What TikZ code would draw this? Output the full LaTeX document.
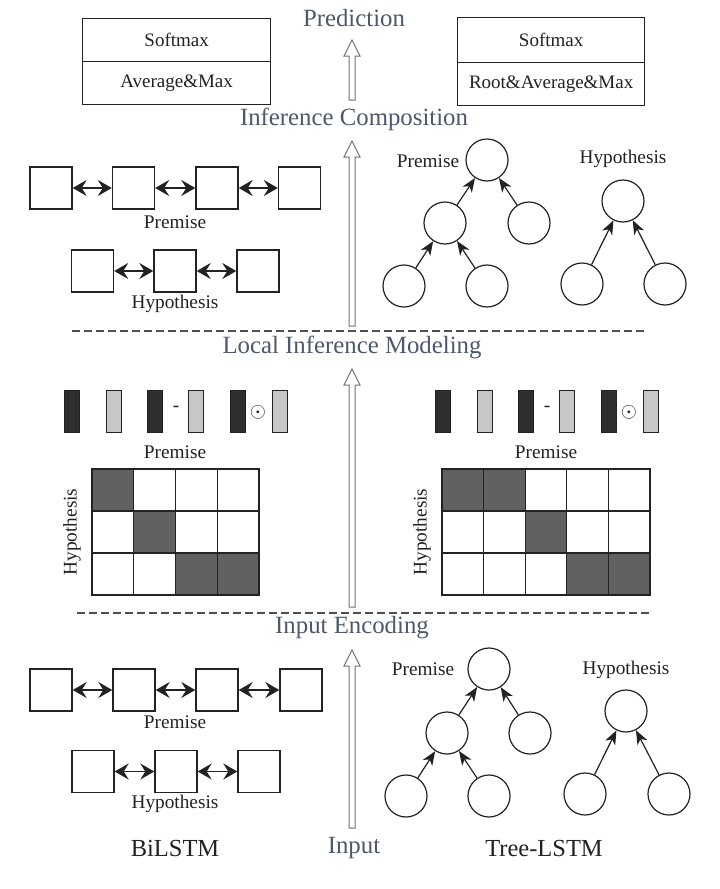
\documentclass[tikz,border=0pt]{standalone}
\usepackage{fontspec}
\setmainfont{Liberation Serif}
\usetikzlibrary{arrows.meta,calc}
\definecolor{stagec}{HTML}{4E586C}
\definecolor{inkc}{HTML}{222222}
\newcommand\hollowup[3]{% x, y bottom, y tip
  \draw[hollow] (#1-3,#2) -- (#1-3,#3+16) -- (#1-8,#3+16) -- (#1,#3) -- (#1+8,#3+16) -- (#1+3,#3+16) -- (#1+3,#2) -- cycle;}
\begin{document}
\begin{tikzpicture}[x=1pt,y=-1pt,
  stage/.style={font=\fontsize{24.8}{29}\selectfont, text=stagec, inner sep=0},
  big/.style={font=\fontsize{24.5}{29}\selectfont, text=inkc, inner sep=0},
  small/.style={font=\fontsize{19.3}{22}\selectfont, text=inkc, inner sep=0},
  cell/.style={draw=inkc, line width=1.4pt, minimum width=42pt, minimum height=42pt, inner sep=0},
  nd/.style={draw=inkc, circle, line width=1.2pt, minimum size=42pt, inner sep=0},
  bi/.style={{Stealth[length=14pt,width=16pt,inset=5pt]}-{Stealth[length=14pt,width=16pt,inset=5pt]}, line width=1.5pt, draw=inkc},
  tr/.style={-{Stealth[length=14pt,width=11pt,inset=4pt]}, line width=1.2pt, draw=inkc},
  sep/.style={dash pattern=on 8pt off 4pt, line width=1.2pt, draw=inkc!80},
  hollow/.style={draw=black!55, line width=1pt, fill=white},
  darkbar/.style={draw=inkc, fill=black!82, line width=1pt, minimum width=15pt, minimum height=42pt, inner sep=0},
  lightbar/.style={draw=inkc, fill=black!22, line width=1pt, minimum width=15pt, minimum height=42pt, inner sep=0},
  matc/.style={draw=inkc, line width=1.3pt},
  darkc/.style={fill=black!62},
  opc/.style={font=\fontsize{22}{24}\selectfont, text=inkc, inner sep=0},
  boxrow/.style={draw=inkc, line width=1.3pt, minimum height=43pt, inner sep=0, font=\fontsize{19}{22}\selectfont, text=inkc},
]
\useasboundingbox (0,0) rectangle (720,889);
\fill[white] (0,0) rectangle (720,889);

% ---------- Top: prediction ----------
\node[stage] (pred) at (354,18) {Prediction};
\node[boxrow, minimum width=188pt, anchor=north west] (lsoft) at (82,18) {Softmax};
\node[boxrow, minimum width=188pt, anchor=north west] (lavg) at (82,61) {Average\&Max};
\node[boxrow, minimum width=187pt, minimum height=45pt, anchor=north west] (rsoft) at (457,17) {Softmax};
\node[boxrow, minimum width=187pt, minimum height=43pt, anchor=north west] (ravg) at (457,62) {Root\&Average\&Max};
\node[stage] (icomp) at (354,119) {Inference Composition};
\hollowup{352}{100}{40}

% ---------- Composition layer ----------
\hollowup{352}{326}{141}

% BiLSTM (composition)
\foreach \n/\x in {1/51,2/133.5,3/217,4/299.5}
  \node[cell] (cp\n) at (\x,188) {};
\foreach \a/\b in {1/2,2/3,3/4} \draw[bi] (cp\a.east) -- (cp\b.west);
\node[small] (cpl) at (175,222) {Premise};
\foreach \n/\x in {1/92.5,2/175,3/258}
  \node[cell] (ch\n) at (\x,271) {};
\foreach \a/\b in {1/2,2/3} \draw[bi] (ch\a.east) -- (ch\b.west);
\node[small] (chl) at (175,304) {Hypothesis};

% Tree (composition)
\node[small] (tpl) at (428,161) {Premise};
\node[nd] (tr) at (487,160) {};
\node[nd] (tm) at (445,223) {};
\node[nd] (trc) at (529,223) {};
\node[nd] (tl1) at (404,286) {};
\node[nd] (tl2) at (487,286) {};
\draw[tr] (tm) -- (tr);
\draw[tr] (trc) -- (tr);
\draw[tr] (tl1) -- (tm);
\draw[tr] (tl2) -- (tm);
\node[small] (thl) at (623,159) {Hypothesis};
\node[nd] (hr) at (623,201) {};
\node[nd] (hl1) at (582,284) {};
\node[nd] (hl2) at (665,284) {};
\draw[tr] (hl1) -- (hr);
\draw[tr] (hl2) -- (hr);

\draw[sep] (72,331) -- (645,331);

% ---------- Local inference ----------
\node[stage] (lim) at (352,347) {Local Inference Modeling};
\hollowup{352}{607}{369}

% left bars
\node[darkbar] (lb1) at (71.5,411) {};
\node[lightbar] (lb2) at (113.5,411) {};
\node[darkbar] (lb3) at (154.5,411) {};
\node[small] (lm) at (176,409) {-};
\node[lightbar] (lb4) at (195.5,411) {};
\node[darkbar] (lb5) at (237.5,411) {};
\node[opc] (lo) at (258,412) {$\odot$};
\node[lightbar] (lb6) at (279.5,411) {};
\node[small] (lpl) at (175,452) {Premise};
\node[small, rotate=90] (lhl) at (72,532) {Hypothesis};
\foreach \c/\r in {0/0,1/1,2/2,3/2}
  \fill[darkc] (92+\c*41.75,469+\r*42) rectangle ++(41.75,42);
\foreach \c in {0,...,3} \foreach \r in {0,1,2}
  \draw[matc] (92+\c*41.75,469+\r*42) rectangle ++(41.75,42);

% right bars
\node[darkbar] (rb1) at (442.5,411) {};
\node[lightbar] (rb2) at (484.5,411) {};
\node[darkbar] (rb3) at (525.5,411) {};
\node[small] (rm) at (547,409) {-};
\node[lightbar] (rb4) at (566.5,411) {};
\node[darkbar] (rb5) at (608.5,411) {};
\node[opc] (ro) at (629,412) {$\odot$};
\node[lightbar] (rb6) at (650.5,411) {};
\node[small] (rpl) at (546,452) {Premise};
\node[small, rotate=90] (rhl) at (422,532) {Hypothesis};
\foreach \c/\r in {0/0,1/0,2/1,3/2,4/2}
  \fill[darkc] (442+\c*41.6,469+\r*42) rectangle ++(41.6,42);
\foreach \c in {0,...,4} \foreach \r in {0,1,2}
  \draw[matc] (442+\c*41.6,469+\r*42) rectangle ++(41.6,42);

\draw[sep] (77,613) -- (650,613);

% ---------- Input encoding ----------
\node[stage] (ienc) at (352,628) {Input Encoding};
\hollowup{352}{828}{650}

\foreach \n/\x in {1/51,2/134,3/217,4/301}
  \node[cell] (ep\n) at (\x,690) {};
\foreach \a/\b in {1/2,2/3,3/4} \draw[bi] (ep\a.east) -- (ep\b.west);
\node[small] (epl) at (175,722) {Premise};
\foreach \n/\x in {1/93,2/176,3/259}
  \node[cell] (eh\n) at (\x,771.5) {};
\foreach \a/\b in {1/2,2/3} \draw[bi] (eh\a.east) -- (eh\b.west);
\node[small] (ehl) at (175,804) {Hypothesis};

\node[small] (epl2) at (423,669) {Premise};
\node[nd] (er) at (489,669) {};
\node[nd] (em) at (447,733) {};
\node[nd] (erc) at (530,733) {};
\node[nd] (el1) at (406,796) {};
\node[nd] (el2) at (489,796) {};
\draw[tr] (em) -- (er);
\draw[tr] (erc) -- (er);
\draw[tr] (el1) -- (em);
\draw[tr] (el2) -- (em);
\node[small] (ehl2) at (626,670) {Hypothesis};
\node[nd] (ehr) at (626,711) {};
\node[nd] (ehl1) at (585,794) {};
\node[nd] (ehl3) at (669,794) {};
\draw[tr] (ehl1) -- (ehr);
\draw[tr] (ehl3) -- (ehr);

\node[big] (bil) at (175,848) {BiLSTM};
\node[stage] (inp) at (354,848) {Input};
\node[big] (tls) at (544,848) {Tree-LSTM};
\end{tikzpicture}
\end{document}
